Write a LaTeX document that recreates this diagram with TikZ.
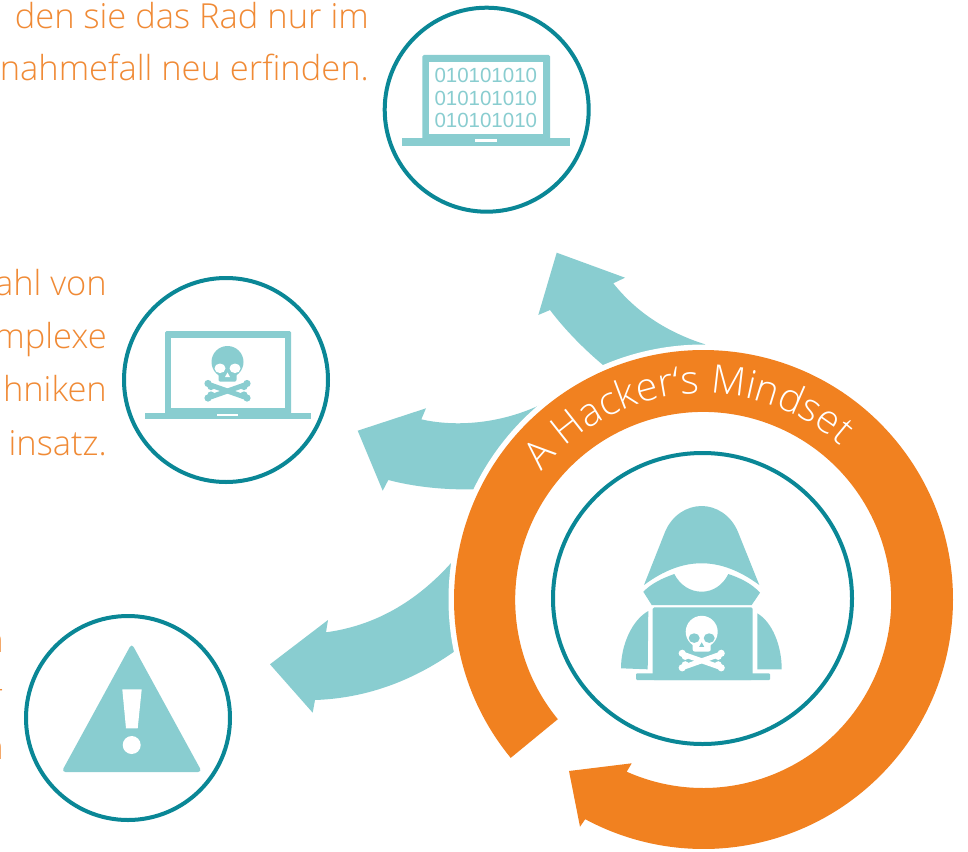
\documentclass[tikz,border=0pt]{standalone}
\usepackage{fontspec}
\usetikzlibrary{decorations.text,shapes.geometric}
\setmainfont{Open Sans Light}
\newfontfamily\digitfont{Liberation Sans}
\definecolor{tealdark}{HTML}{0A8796}
\definecolor{teallight}{HTML}{89CDD0}
\definecolor{ringorange}{HTML}{F18120}
\definecolor{textorange}{HTML}{F08A35}
\newcommand{\skullfg}{teallight}
\newcommand{\skullbg}{white}
\tikzset{
  iconcircle/.style={circle,draw=tealdark,line width=4pt,fill=white,inner sep=0pt,minimum size=204pt},
  tealfill/.style={fill=teallight,draw=none},
  copytext/.style={anchor=base east,inner sep=0pt,text=textorange,font=\fontsize{34.5}{34.5}\selectfont},
  binary/.style={inner sep=0pt,text=teallight,font=\digitfont\fontsize{20.5}{20.5}\selectfont},
  skull/.pic={
    \fill[fill=\skullfg] (0,-10) circle[radius=16];
    \fill[fill=\skullfg,rounded corners=2] (-9,-4) rectangle (9,9.7);
    \draw[line width=5pt,line cap=round,draw=\skullfg] (-17,13) -- (17,25);
    \draw[line width=5pt,line cap=round,draw=\skullfg] (17,13) -- (-17,25);
    \foreach \px/\py in {-19.5/11.5,-16.5/14.5,-19.5/26,-16.5/23,19.5/11.5,16.5/14.5,19.5/26,16.5/23}
      \fill[fill=\skullfg] (\px,\py) circle[radius=3.6];
    \fill[fill=\skullbg] (-7.5,-3.7) ellipse[x radius=5.5,y radius=4.8];
    \fill[fill=\skullbg] (7.5,-3.7) ellipse[x radius=5.5,y radius=4.8];
    \fill[fill=\skullbg] (0,0.5) -- (2.5,5) -- (-2.5,5) -- cycle;
  }
}
\begin{document}
\begin{tikzpicture}[x=1pt,y=-1pt]
\clip (0,0) rectangle (968,851);
\fill[white] (0,0) rectangle (968,851);

% text
\node[copytext] at (369,29) {den sie das Rad nur im};
\node[copytext] at (369,81) {nahmefall neu erfinden.};
\node[copytext] at (107,295) {ahl von};
\node[copytext] at (107,348) {mplexe};
\node[copytext] at (107,401) {hniken};
\node[copytext] at (107,455) {insatz.};
\node[copytext] at (4,652) {n};
\node[copytext] at (4,699) {-};
\node[copytext] at (4,759) {n};
\node[copytext] at (3,812) {.};

% teal arrows
\fill[tealfill] (538.3,315) -- (556.7,252.7) -- (625,277.7) -- (613.3,283.3)
  .. controls (635.8,311.6) and (666.3,332) .. (705,344.3)
  -- (720,380) -- (640,390) -- (603,365)
  .. controls (585,350) and (565,330) .. (550,310) -- cycle;
\fill[tealfill] (357.7,430.7) -- (426,408.3) -- (421.3,419.3)
  .. controls (450,426) and (495,426) .. (540,405)
  -- (560,420) -- (520,480) -- (474,489.3)
  .. controls (445,490) and (415,487) .. (388.3,480)
  -- (382.7,490.7) -- cycle;
\fill[tealfill] (270,664.3) -- (328,620) -- (326,632.3)
  .. controls (373.8,625.9) and (415.7,602.6) .. (451.7,562.3)
  -- (480,600) -- (454,651.7)
  .. controls (410.6,682.2) and (364.3,698.3) .. (315,700)
  -- (312.7,712.7) -- cycle;

% white gap and ring arrow
\fill[white] (703.5,599.5) circle[radius=255];
\begin{scope}[shift={(703.5,599.5)}]
  \fill[ringorange] (140.6:188) -- (140.6:249.5)
    arc[start angle=140.6,end angle=478.3,radius=249.5]
    -- (-123.5,227.2) -- (-134.5,171.5) -- (-71.8,163.8) -- (-76.8,172.2)
    arc[start angle=474,end angle=140.6,radius=188] -- cycle;
  \path[decorate,decoration={text along path,text align=center,
      text={|\fontsize{39.5}{39.5}\selectfont\color{white}|A Hacker‘s Mindset}}]
    (217:206) arc[start angle=217,end angle=313,radius=206];
\end{scope}

% circles
\node[ellipse,draw=tealdark,line width=4pt,fill=white,inner sep=0pt,minimum width=299pt,minimum height=291pt] (maincircle) at (702.5,598.5) {};
\node[iconcircle] (topcircle) at (486.7,109.7) {};
\node[iconcircle] (midcircle) at (226,380) {};
\node[iconcircle] (warncircle) at (128,718) {};

% top laptop
\fill[tealfill,rounded corners=1.5] (422.3,55) rectangle (550,140);
\fill[white] (429,61.7) rectangle (543.3,134.3);
\fill[tealfill] (401.7,138.3) rectangle (570,145.7);
\fill[white] (475,139.3) rectangle (497.3,141.7);
\node[binary] (binA) at (485.8,75) {010101010};
\node[binary] (binB) at (485.8,98) {010101010};
\node[binary] (binC) at (485.8,120) {010101010};

% middle laptop
\fill[tealfill,rounded corners=1.5] (165,331) rectangle (291,415);
\fill[white] (171,337.7) rectangle (285,408.3);
\fill[tealfill] (145,412.7) rectangle (310.7,419.3);
\fill[white] (217.3,413.7) rectangle (238.3,415.7);
\pic at (227.5,372) {skull};

% warning triangle
\fill[tealfill,rounded corners=4] (131.7,643.5) -- (202,772) -- (61.5,772) -- cycle;
\fill[white] (122.3,689.3) -- (141.7,689.3) -- (137.7,728.3) -- (126,728.3) -- cycle;
\fill[white] (131.7,745) circle[radius=9];

% hacker
\fill[tealfill] (644,585) -- (665,532)
  .. controls (672,515) and (687,506) .. (701.7,506)
  .. controls (716,506) and (731,515) .. (738,532)
  -- (759.3,585)
  .. controls (720,556) and (683,556) .. cycle;
\fill[tealfill] (643.3,591.7) .. controls (652,583) and (663,578) .. (674.3,574)
  .. controls (680,585) and (690,591.7) .. (701.7,591.7)
  .. controls (713,591.7) and (723,585) .. (728.3,574)
  .. controls (740,578) and (751,583) .. (760,592.7)
  -- (751.7,605) -- (651.7,605) -- cycle;
\fill[tealfill] (648.3,611) .. controls (632,620) and (621,645) .. (621,668.3)
  -- (647.7,669.3) -- cycle;
\fill[tealfill] (757.3,613.3) .. controls (772,622) and (781.7,645) .. (781.7,669.3)
  -- (757.3,669.3) -- cycle;
\fill[tealfill,rounded corners=1] (636,673.3) rectangle (770,680);
\fill[tealfill,rounded corners=1.5] (652.7,607.3) rectangle (752.7,680);
\begin{scope}[shift={(701.7,641.8)},scale=0.84]
  \renewcommand{\skullfg}{white}
  \renewcommand{\skullbg}{teallight}
  \pic at (0,0) {skull};
\end{scope}
\end{tikzpicture}
\end{document}
